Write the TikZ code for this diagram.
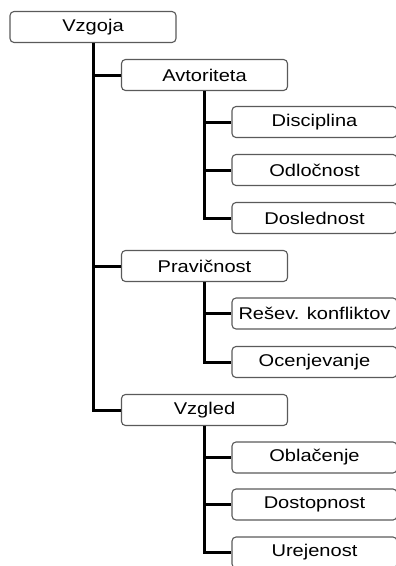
\documentclass[tikz,border=0pt]{standalone}
\usepackage{fontspec}
\setmainfont{Liberation Sans}[FakeStretch=1.18]
\definecolor{frame1}{HTML}{5A5A5A}
\definecolor{line1}{HTML}{000000}

\begin{document}
\begin{tikzpicture}[x=1pt,y=-1pt,font=\fontsize{17}{20}\selectfont,
    box/.style={draw=frame1,line width=1.1pt,rounded corners=4pt,fill=white,
        minimum height=31pt,inner sep=0pt},
    topbox/.style={box,minimum width=166pt},
    subbox/.style={box,minimum width=165pt}]
\useasboundingbox (0,0) rectangle (396,566);

% Root and first level
\node [topbox] (vzgoja) at (93, 27) {Vzgoja};
\node [topbox] (avtoriteta) at (204.5, 75) {Avtoriteta};
\node [topbox] (pravicnost) at (204.5, 266) {Pravičnost};
\node [topbox] (vzgled) at (204.5, 410) {Vzgled};

% Second level
\node [subbox] (disciplina) at (314.5, 122) {Disciplina};
\node [subbox] (odlocnost) at (314.5, 170) {Odločnost};
\node [subbox] (doslednost) at (314.5, 218) {Doslednost};

\node [subbox] (resev) at (314.5, 313.5) {Rešev. konfliktov};
\node [subbox] (ocenjevanje) at (314.5, 362) {Ocenjevanje};

\node [subbox] (oblacenje) at (314.5, 457.5) {Oblačenje};
\node [subbox] (dostopnost) at (314.5, 504.5) {Dostopnost};
\node [subbox] (urejenost) at (314.5, 552.5) {Urejenost};

% Lines connecting parent and child
\begin{scope}[line width=3pt,every path/.style={draw=line1}]
\path (vzgoja.south) |- (avtoriteta.west);
\path (vzgoja.south) |- (pravicnost.west);
\path (vzgoja.south) |- (vzgled.west);

\path (avtoriteta.south) |- (disciplina.west);
\path (avtoriteta.south) |- (odlocnost.west);
\path (avtoriteta.south) |- (doslednost.west);

\path (pravicnost.south) |- (resev.west);
\path (pravicnost.south) |- (ocenjevanje.west);

\path (vzgled.south) |- (oblacenje.west);
\path (vzgled.south) |- (dostopnost.west);
\path (vzgled.south) |- (urejenost.west);
\end{scope}
\end{tikzpicture}
\end{document}
